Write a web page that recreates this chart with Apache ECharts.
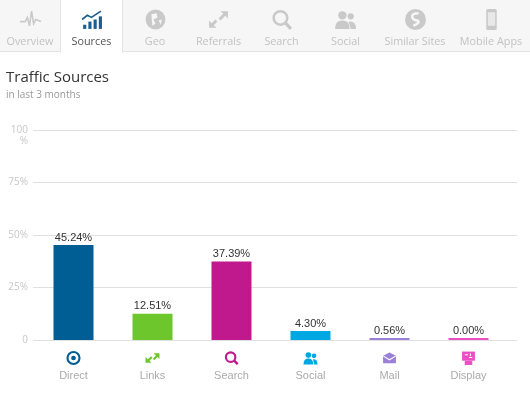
<!DOCTYPE html>
<html>
<head>
<meta charset="utf-8">
<script src="https://cdn.jsdelivr.net/npm/echarts@6/dist/echarts.min.js"></script>
<style>
  html, body { margin: 0; padding: 0; background: #fff; }
  #chart { position: absolute; left: 0; top: 0; width: 530px; height: 406px; }
  #tabs { position: absolute; left: 0; top: 0; width: 530px; height: 52px; background: #f6f6f6;
          border-bottom: 1px solid #e4e4e4; box-sizing: border-box; z-index: 2;
          font-family: "Open Sans", sans-serif; font-size: 10.8px; color: #c2c2c2; }
  .tab { position: absolute; top: 0; height: 52px; text-align: center; box-sizing: border-box; }
  .tab svg { display: block; margin: 8px auto 0; width: 23px; height: 23px; }
  .tab span { display: block; margin-top: 2px; white-space: nowrap; }
  .tab.active { background: #fff; height: 53px; border-left: 1px solid #e4e4e4; border-right: 1px solid #e4e4e4; color: #555; }
</style>
</head>
<body>
<div id="tabs"></div>
<div id="chart"></div>
<script>
// nav tabs: label, left edges
var tabNames = ['Overview', 'Sources', 'Geo', 'Referrals', 'Search', 'Social', 'Similar Sites', 'Mobile Apps'];
var tabEdges = [0, 60, 123, 187, 250, 313, 378, 452, 530];
var activeTab = 1;

var categories = ['Direct', 'Links', 'Search', 'Social', 'Mail', 'Display'];
var shares = [45.24, 12.51, 37.39, 4.30, 0.56, 0.00];
var yTickLabels = ['0', '25%', '50%', '75%', ' \n100\n%'];

var barColors = ['#005e95', '#6cc62c', '#c0188d', '#00a8e3', '#9b80d8', '#ec4fc4'];

function tabIcon(i, c) {
    var s = '<svg viewBox="0 0 22 22">';
    if (i == 0) s += '<polyline points="1,13 6,13 8,9 10,17 12,3 14,15 16,11 21,13" fill="none" stroke="' + c + '" stroke-width="1.5"/>';
    if (i == 1) s += '<polyline points="2,11 7,7 11,9 20,3" fill="none" stroke="' + c + '" stroke-width="1.6"/>'
        + '<rect x="3" y="16" width="3" height="4" fill="' + c + '"/><rect x="8" y="13" width="3" height="7" fill="' + c + '"/>'
        + '<rect x="13" y="11" width="3" height="9" fill="' + c + '"/><rect x="18" y="8" width="3" height="12" fill="' + c + '"/>';
    if (i == 2) s += '<circle cx="11" cy="11" r="9.5" fill="' + c + '"/><path d="M7 6 L12 5 L13 9 L9 11 L11 15 L8 17 Z M14 12 L17 11 L16 16 Z" fill="#f6f6f6"/>';
    if (i == 3) s += '<path d="M13 3 L20 3 L20 10 L17.5 7.5 L13 12 L11 10 L15.5 5.5 Z M2 12 L2 19 L9 19 L6.5 16.5 L10 13 L8 11 L4.5 14.5 Z" fill="' + c + '"/>';
    if (i == 4) s += '<circle cx="10" cy="9.5" r="6.5" fill="none" stroke="' + c + '" stroke-width="2.4"/><line x1="14.5" y1="14" x2="20" y2="20" stroke="' + c + '" stroke-width="3"/>';
    if (i == 5) s += '<circle cx="8" cy="7" r="4" fill="' + c + '"/><path d="M1 20 Q1 12 8 12 Q15 12 15 20 Z" fill="' + c + '"/>'
        + '<circle cx="16" cy="8" r="3" fill="' + c + '"/><path d="M14 13 Q21 12 21 20 L16 20 Z" fill="' + c + '"/>';
    if (i == 6) s += '<circle cx="11" cy="11" r="10" fill="' + c + '"/><path d="M14 5 Q7 5 8 9 Q9 12 13 12 Q16 14 9 17" fill="none" stroke="#f6f6f6" stroke-width="2.4"/>';
    if (i == 7) s += '<rect x="6" y="1" width="10" height="20" rx="1.5" fill="' + c + '"/><rect x="7.5" y="4" width="7" height="13" fill="#e8e8e8"/>';
    return s + '</svg>';
}

var tabsHtml = '';
for (var i = 0; i < tabNames.length; i++) {
    var active = i == activeTab;
    tabsHtml += '<div class="tab' + (active ? ' active' : '') + '" style="left:' + tabEdges[i] + 'px;width:' + (tabEdges[i + 1] - tabEdges[i]) + 'px">'
        + tabIcon(i, active ? '#1b5f8f' : '#c9c9c9') + '<span>' + tabNames[i] + '</span></div>';
}
document.getElementById('tabs').innerHTML = tabsHtml;

// small svg icons under each category
function svgUri(body) {
    return 'data:image/svg+xml;charset=utf-8,' + encodeURIComponent('<svg xmlns="http://www.w3.org/2000/svg" width="28" height="28" viewBox="0 0 14 14">' + body + '</svg>');
}
var catIcons = [
    svgUri('<circle cx="7" cy="7" r="5.6" fill="none" stroke="#005e95" stroke-width="2"/><circle cx="7" cy="7" r="2.2" fill="#005e95"/>'),
    svgUri('<path d="M8 2.5 L13.5 2.5 L13.5 8 L11.6 6.1 L8.7 9 L7.3 7.6 L10.2 4.7 Z M0.5 6 L0.5 11.5 L6 11.5 L4.1 9.6 L7 6.7 L5.6 5.3 L2.7 8.2 Z" fill="#6cc62c"/>'),
    svgUri('<circle cx="6.2" cy="6.2" r="4.4" fill="none" stroke="#c0188d" stroke-width="2"/><line x1="9.3" y1="9.3" x2="12.8" y2="12.8" stroke="#c0188d" stroke-width="2.3"/>'),
    svgUri('<circle cx="5" cy="4.3" r="2.6" fill="#00a8e3"/><path d="M0.5 13 Q0.5 7.5 5 7.5 Q9.5 7.5 9.5 13 Z" fill="#00a8e3"/><circle cx="10.3" cy="5" r="2.2" fill="#00a8e3"/><path d="M9.3 8.2 Q13.6 7.8 13.6 13 L10.4 13 Z" fill="#00a8e3"/>'),
    svgUri('<path d="M1 5 L7 1.8 L13 5 L13 12 L1 12 Z" fill="#9b80d8"/><path d="M1 5 L7 8.7 L13 5" fill="none" stroke="#fff" stroke-width="1"/>'),
    svgUri('<rect x="1" y="1" width="12" height="8.5" fill="#ec4fc4"/><rect x="3.5" y="9.5" width="7" height="4" fill="#ec4fc4"/><path d="M3.5 4 L6.5 4 M7.5 6.5 L10.5 6.5 M8.8 2.8 L8.8 5.2" stroke="#fff" stroke-width="1"/>')
];

var rich = {
    name: { color: '#ababab', fontSize: 11, lineHeight: 17, fontFamily: 'Liberation Sans, Arial, sans-serif' }
};
categories.forEach(function (c, i) {
    rich['ic' + i] = { width: 15, height: 15, lineHeight: 18, backgroundColor: { image: catIcons[i] } };
});

var chart = echarts.init(document.getElementById('chart'));
chart.setOption({
    animation: false,
    title: {
        text: 'Traffic Sources',
        subtext: 'in last 3 months',
        left: 1,
        top: 65,
        itemGap: 5,
        textStyle: { fontFamily: 'Open Sans', fontSize: 15, fontWeight: 'normal', color: '#333' },
        subtextStyle: { fontFamily: 'Open Sans', fontSize: 10, color: '#999' }
    },
    // grid 0 carries the gridlines across the full width, grid 1 holds the bars
    grid: [
        { left: 33, right: 13, top: 130, bottom: 66 },
        { left: 34, right: 22, top: 130, bottom: 66 }
    ],
    xAxis: [{
        gridIndex: 0,
        type: 'value',
        show: false
    }, {
        gridIndex: 1,
        type: 'category',
        data: categories,
        axisLine: { show: false },
        axisTick: { show: false },
        axisLabel: {
            margin: 9,
            interval: 0,
            formatter: function (v, idx) { return '{ic' + idx + '|}\n{name|' + v + '}'; },
            rich: rich
        }
    }],
    yAxis: [{
        gridIndex: 0,
        type: 'value',
        min: 0,
        max: 100,
        interval: 25,
        axisLine: { show: false },
        axisTick: { show: false },
        splitLine: { lineStyle: { color: '#e0e0e0' } },
        axisLabel: {
            margin: 5,
            color: '#c8c8c8',
            fontSize: 10,
            lineHeight: 11,
            fontFamily: 'Open Sans',
            formatter: function (v) { return yTickLabels[v / 25]; }
        }
    }, {
        gridIndex: 1,
        type: 'value',
        min: 0,
        max: 100,
        interval: 25,
        show: false,
        splitLine: { show: false }
    }],
    series: [{
        type: 'bar',
        xAxisIndex: 1,
        yAxisIndex: 1,
        data: shares,
        barWidth: 40,
        barMinHeight: 2,
        itemStyle: { color: function (p) { return barColors[p.dataIndex]; } },
        label: {
            show: true,
            position: 'top',
            distance: 2,
            color: '#333',
            fontSize: 11,
            fontFamily: 'Liberation Sans, Arial, sans-serif',
            formatter: function (p) { return p.value.toFixed(2) + '%'; }
        }
    }]
});
</script>
</body>
</html>
